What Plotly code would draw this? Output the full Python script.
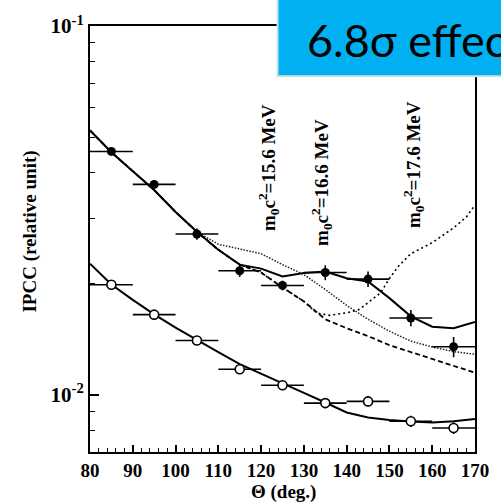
import plotly.graph_objects as go

# ---------------- data ----------------
theta_pts = [85, 95, 105, 115, 125, 135, 145, 155, 165]
theta_err = [5, 5, 5, 5, 5, 5, 5, 5, 5]
ipcc_filled = [0.0457, 0.0372, 0.0273, 0.0217, 0.0198, 0.02146, 0.0206, 0.01616, 0.0135]
ipcc_filled_err = [0.0008, 0.00105, 0.00095, 0.00082, 0.0006, 0.001, 0.001, 0.00082, 0.00085]
ipcc_open = [0.01989, 0.0165, 0.01404, 0.01173, 0.01062, 0.0095, 0.0096, 0.00848, 0.00813]
ipcc_open_err = [0.0003, 0.0003, 0.0003, 0.0003, 0.0003, 0.0003, 0.0003, 0.0003, 0.0003]

theta_curve = [80, 85, 90, 95, 100, 105, 110, 115, 120, 125, 130, 135, 140, 145, 150, 155, 160, 165, 170]
fit_filled = [0.05212, 0.04546, 0.04041, 0.03591, 0.03133, 0.02767, 0.02474, 0.02254, 0.02199, 0.02093,
              0.02139, 0.02159, 0.02071, 0.02029, 0.01829, 0.01633, 0.01530, 0.01516, 0.01576]
fit_open = [0.02268, 0.01991, 0.01809, 0.01653, 0.01521, 0.01407, 0.01306, 0.01212, 0.01143, 0.01077,
            0.01012, 0.009533, 0.008958, 0.008685, 0.008546, 0.008472, 0.008420, 0.008483, 0.008599]
curve_156 = [0.05212, 0.04546, 0.04041, 0.03591, 0.03133, 0.02767, 0.02560, 0.02490, 0.02414, 0.02254,
             0.02119, 0.01931, 0.01748, 0.01603, 0.01488, 0.01399, 0.01348, 0.01310, 0.01288]
curve_bkg = [0.05212, 0.04546, 0.04041, 0.03591, 0.03133, 0.02767, 0.02474, 0.02254, 0.02146, 0.01955,
             0.01792, 0.01603, 0.01516, 0.01443, 0.01364, 0.01306, 0.01250, 0.01197, 0.01148]
theta_176 = [80, 85, 90, 95, 100, 105, 110, 115, 120, 125, 130, 133, 136, 140, 143, 146, 148, 150,
             152, 155, 160, 165, 168, 170]
curve_176 = [0.05212, 0.04546, 0.04041, 0.03591, 0.03133, 0.02767, 0.02474, 0.02254, 0.02146, 0.01955,
             0.01792, 0.01666, 0.01643, 0.01669, 0.01705, 0.01815, 0.01895, 0.02067, 0.02226, 0.02414,
             0.02585, 0.02837, 0.03038, 0.03271]

x_ticks = [80, 90, 100, 110, 120, 130, 140, 150, 160, 170]
y_ticks = [0.01, 0.1]
y_ticktext = ["10<sup>-2</sup>", "10<sup>-1</sup>"]
y_minor = [0.008, 0.009, 0.02, 0.03, 0.04, 0.05, 0.06, 0.07, 0.08, 0.09]
mass_labels = ["m<sub>0</sub>c<sup>2</sup>=15.6 MeV", "m<sub>0</sub>c<sup>2</sup>=16.6 MeV",
               "m<sub>0</sub>c<sup>2</sup>=17.6 MeV"]
box_text = "6.8σ effect"

SERIF = "Liberation Serif"

fig = go.Figure()

# curves
fig.add_trace(go.Scatter(x=theta_curve, y=curve_bkg, mode="lines",
                         line=dict(color="black", width=1.8, dash="5px,3px"), showlegend=False))
fig.add_trace(go.Scatter(x=theta_curve, y=curve_156, mode="lines",
                         line=dict(color="#222", width=1.5, dash="1.5px,1.5px"), showlegend=False))
fig.add_trace(go.Scatter(x=theta_176, y=curve_176, mode="lines",
                         line=dict(color="black", width=1.6, dash="2px,3px"), showlegend=False))
fig.add_trace(go.Scatter(x=theta_curve, y=fit_filled, mode="lines",
                         line=dict(color="black", width=2), showlegend=False))
fig.add_trace(go.Scatter(x=theta_curve, y=fit_open, mode="lines",
                         line=dict(color="black", width=2), showlegend=False))

# data points
fig.add_trace(go.Scatter(
    x=theta_pts, y=ipcc_filled, mode="markers",
    marker=dict(symbol="circle", size=9, color="black"),
    error_x=dict(type="data", array=theta_err, color="black", thickness=1.6, width=0),
    error_y=dict(type="data", array=ipcc_filled_err, color="black", thickness=1.6, width=0),
    showlegend=False))
fig.add_trace(go.Scatter(
    x=theta_pts, y=ipcc_open, mode="markers",
    marker=dict(symbol="circle", size=9, color="white", line=dict(color="black", width=1.6)),
    error_x=dict(type="data", array=theta_err, color="black", thickness=1.6, width=0),
    error_y=dict(type="data", array=ipcc_open_err, color="black", thickness=1.6, width=0),
    showlegend=False))

fig.update_layout(
    width=501, height=504,
    margin=dict(l=90, r=26, t=23, b=52),
    paper_bgcolor="white", plot_bgcolor="white",
    showlegend=False,
)
fig.update_xaxes(
    range=[80, 170], tickvals=x_ticks, ticks="inside", ticklen=7, tickwidth=1.5, tickcolor="black",
    minor=dict(dtick=2, tick0=80, ticks="inside", ticklen=4, tickwidth=1.2, tickcolor="black"),
    showgrid=False, zeroline=False, showline=True, linecolor="black", linewidth=2, mirror=True,
    tickfont=dict(family=SERIF, size=19, color="black", weight="bold"),
)
fig.update_yaxes(
    type="log", range=[-2.1549, -1], tickvals=y_ticks, ticktext=y_ticktext,
    ticks="inside", ticklen=9, tickwidth=1.5, tickcolor="black",
    minor=dict(tickvals=y_minor, ticks="inside", ticklen=5, tickwidth=1.2, tickcolor="black"),
    showgrid=False, zeroline=False, showline=True, linecolor="black", linewidth=2, mirror=True,
    tickfont=dict(family=SERIF, size=21, color="black", weight="bold"),
)

def px2paper(px, py):
    return (px - 90) / 385.0, (452 - py) / 429.0

ann = []
for (cx, cy), txt in zip([(268, 166), (322, 181), (413, 163)], mass_labels):
    x, y = px2paper(cx, cy)
    ann.append(dict(x=x, y=y, xref="paper", yref="paper", text=txt, textangle=-90, showarrow=False,
                    xanchor="center", yanchor="middle",
                    font=dict(family=SERIF, size=19, color="black", weight="bold")))
x, y = px2paper(30, 230)
ann.append(dict(x=x, y=y, xref="paper", yref="paper", text="IPCC (relative unit)", textangle=-90,
                showarrow=False, xanchor="center", yanchor="middle",
                font=dict(family=SERIF, size=19, color="black", weight="bold")))
x, y = px2paper(283, 492)
ann.append(dict(x=x, y=y, xref="paper", yref="paper", text="Θ (deg.)", showarrow=False,
                xanchor="center", yanchor="middle",
                font=dict(family=SERIF, size=19, color="black", weight="bold")))

# blue box
bx0, by0 = px2paper(277.5, 73.5)
fig.add_shape(type="rect", xref="paper", yref="paper", x0=bx0, y0=by0, x1=1.2, y1=1.2,
              fillcolor="#00B0F0", line=dict(color="#cfe3e3", width=2), layer="above")
x, y = px2paper(305, 37)
ann.append(dict(x=x, y=y, xref="paper", yref="paper", text=box_text, showarrow=False,
                xanchor="left", yanchor="middle",
                font=dict(family="Lato", size=45, color="black")))

fig.update_layout(annotations=ann)
fig.write_html("out.html", config={"displayModeBar": False},
               post_script="document.body.style.margin='0';document.body.style.overflow='hidden';")
